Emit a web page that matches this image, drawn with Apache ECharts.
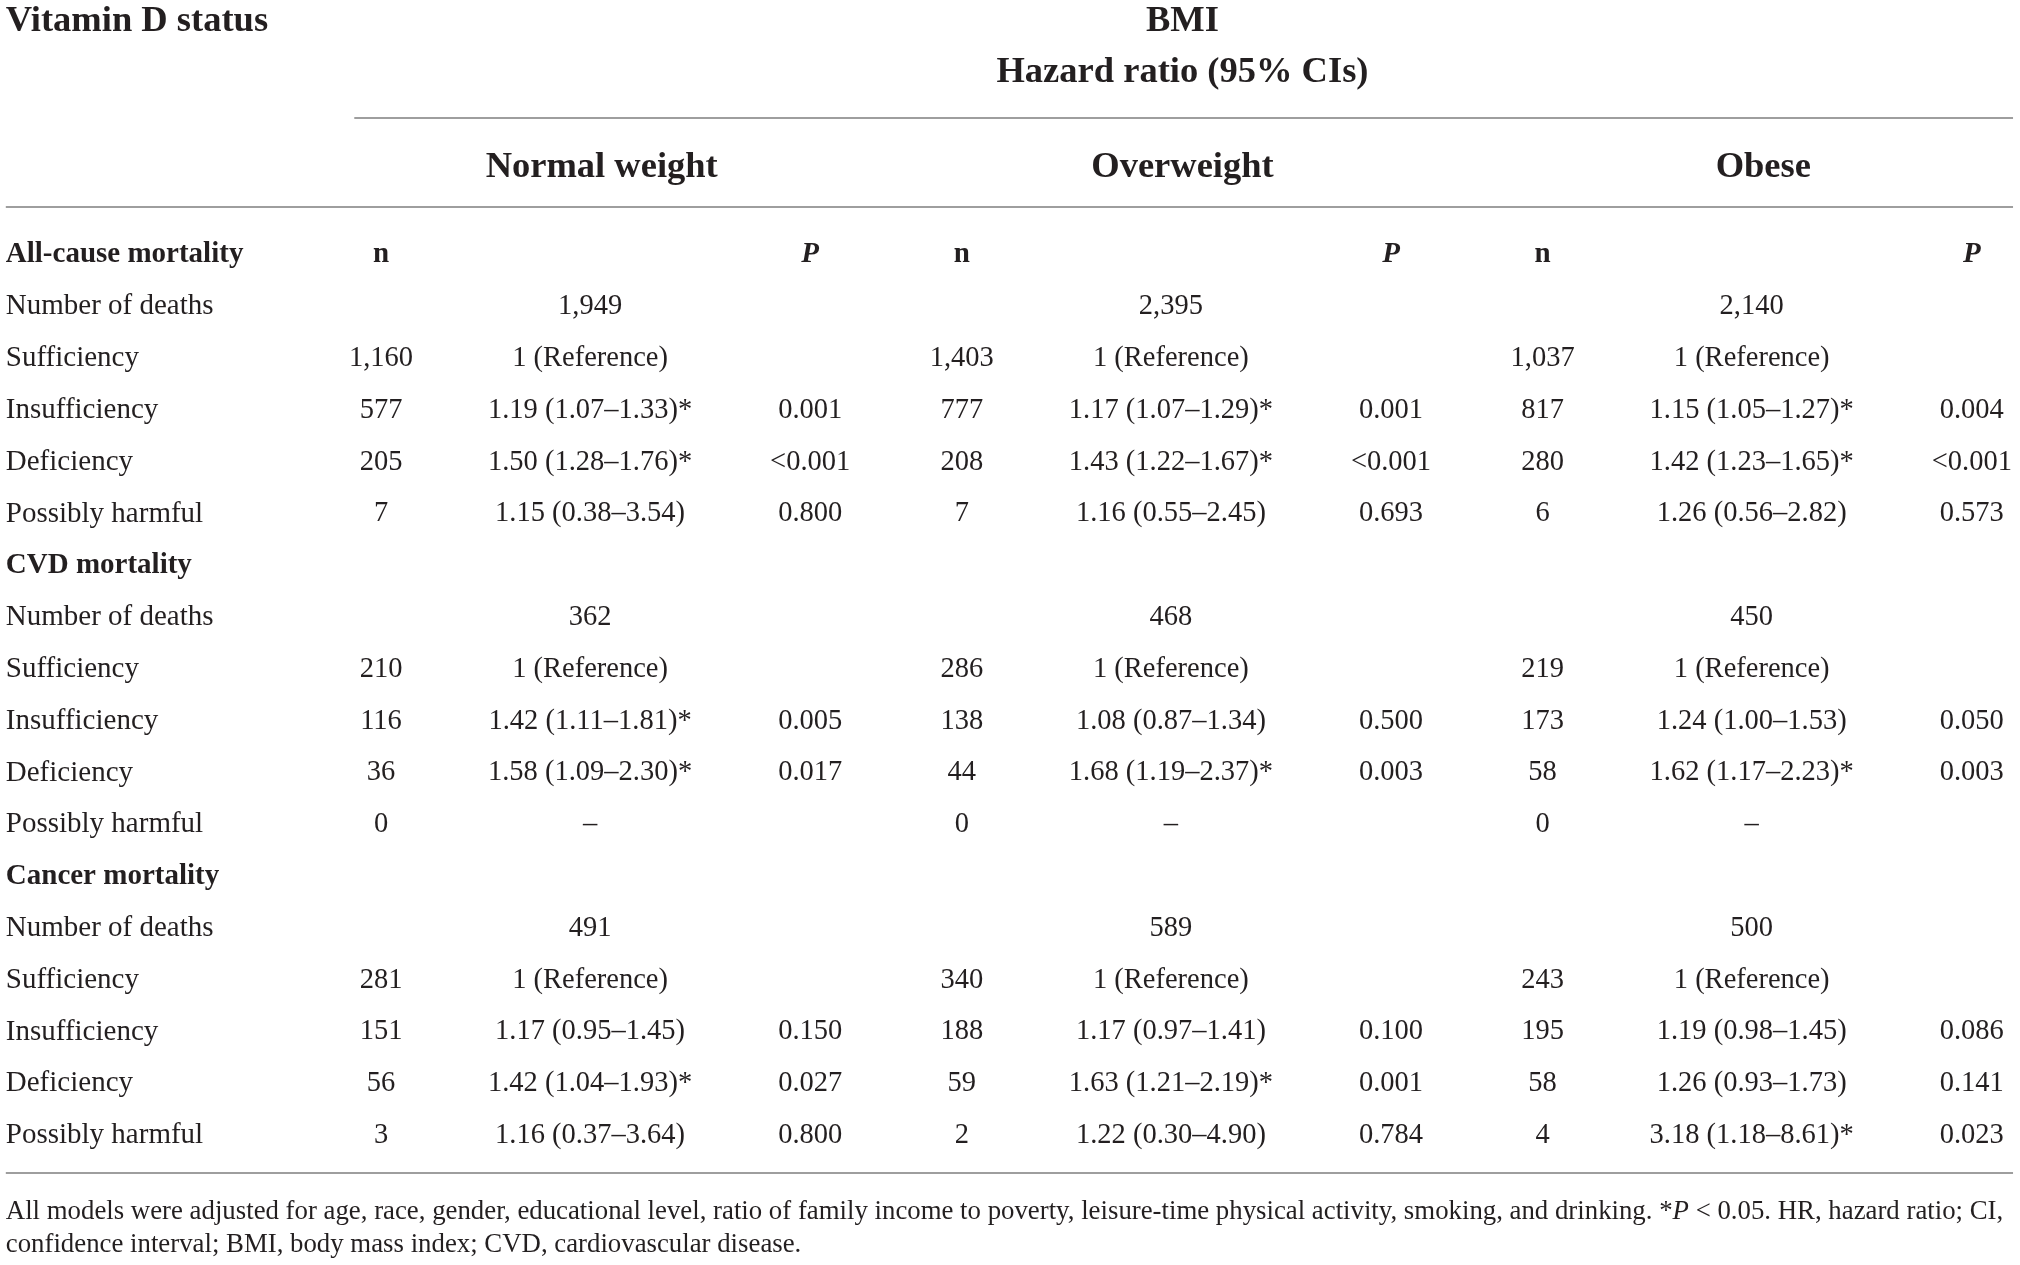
<!DOCTYPE html>
<html>
<head>
<meta charset="utf-8">
<script src="https://cdn.jsdelivr.net/npm/echarts@6/dist/echarts.min.js"></script>
<style>
  html, body { margin: 0; padding: 0; background: #fff; }
  #main { width: 2020px; height: 1265px; }
</style>
</head>
<body>
<div id="main"></div>
<script>
var groups = ['Normal weight', 'Overweight', 'Obese'];
var sections = ['All-cause mortality', 'CVD mortality', 'Cancer mortality'];
var statuses = ['Sufficiency', 'Insufficiency', 'Deficiency', 'Possibly harmful'];
// number of deaths, one row per section, one value per BMI group
var deaths = [[1949, 2395, 2140], [362, 468, 450], [491, 589, 500]];
// n for Sufficiency, Insufficiency, Deficiency, Possibly harmful (one row per BMI group)
var allCauseN = [[1160, 577, 205, 7], [1403, 777, 208, 7], [1037, 817, 280, 6]];
var cvdN = [[210, 116, 36, 0], [286, 138, 44, 0], [219, 173, 58, 0]];
var cancerN = [[281, 151, 56, 3], [340, 188, 59, 2], [243, 195, 58, 4]];
// HR (95% CI) for Insufficiency, Deficiency, Possibly harmful; Sufficiency is the reference
var allCauseHR = [[1.19, 1.50, 1.15], [1.17, 1.43, 1.16], [1.15, 1.42, 1.26]];
var allCauseLo = [[1.07, 1.28, 0.38], [1.07, 1.22, 0.55], [1.05, 1.23, 0.56]];
var allCauseHi = [[1.33, 1.76, 3.54], [1.29, 1.67, 2.45], [1.27, 1.65, 2.82]];
var allCauseP = [['0.001', '<0.001', '0.800'], ['0.001', '<0.001', '0.693'], ['0.004', '<0.001', '0.573']];
var cvdHR = [[1.42, 1.58, null], [1.08, 1.68, null], [1.24, 1.62, null]];
var cvdLo = [[1.11, 1.09, null], [0.87, 1.19, null], [1.00, 1.17, null]];
var cvdHi = [[1.81, 2.30, null], [1.34, 2.37, null], [1.53, 2.23, null]];
var cvdP = [['0.005', '0.017', ''], ['0.500', '0.003', ''], ['0.050', '0.003', '']];
var cancerHR = [[1.17, 1.42, 1.16], [1.17, 1.63, 1.22], [1.19, 1.26, 3.18]];
var cancerLo = [[0.95, 1.04, 0.37], [0.97, 1.21, 0.30], [0.98, 0.93, 1.18]];
var cancerHi = [[1.45, 1.93, 3.64], [1.41, 2.19, 4.90], [1.45, 1.73, 8.61]];
var cancerP = [['0.150', '0.027', '0.800'], ['0.100', '0.001', '0.784'], ['0.086', '0.141', '0.023']];
var footnote = [
  'All models were adjusted for age, race, gender, educational level, ratio of family income to poverty, leisure-time physical activity, smoking, and drinking. *{i|P} < 0.05. HR, hazard ratio; CI,',
  'confidence interval; BMI, body mass index; CVD, cardiovascular disease.'
];

var nData = [allCauseN, cvdN, cancerN];
var hrData = [allCauseHR, cvdHR, cancerHR];
var loData = [allCauseLo, cvdLo, cancerLo];
var hiData = [allCauseHi, cvdHi, cancerHi];
var pData = [allCauseP, cvdP, cancerP];

// layout: x in BMI-group units, y in table-row units
var COL = { label: -0.646, n: 0, hr: 0.360, p: 0.739, head: 0.38 };
var ROW = { title: -4.51, hazard: -3.53, rule1: -2.596, group: -1.69, rule2: -0.878, bottom: 17.77, foot1: 18.47, foot2: 19.12 };
var TEXT_DY = 2.5;
var INK = '#231f20';
var RULE = '#9e9e9e';
var FONT = '"Liberation Serif", "Times New Roman", serif';
var styles = {
  head: { fontSize: 36.5, fontWeight: 'bold' },
  sect: { fontSize: 29, fontWeight: 'bold' },
  subP: { fontSize: 29, fontWeight: 'bold', fontStyle: 'italic' },
  label: { fontSize: 29 },
  body: { fontSize: 28.5 },
  foot: { fontSize: 26.8 }
};

function fmtN(v) { return String(v).replace(/\B(?=(\d{3})+(?!\d))/g, ','); }
function isSig(p) { return p.charAt(0) === '<' || (p !== '' && parseFloat(p) < 0.05); }

var cells = [];
function cell(x, y, text, st, align) { cells.push({ x: x, y: y, text: text, st: st, align: align || 'center' }); }

cell(COL.label, ROW.title, 'Vitamin D status', 'head', 'left');
cell(1 + COL.head, ROW.title, 'BMI', 'head');
cell(1 + COL.head, ROW.hazard, 'Hazard ratio (95% CIs)', 'head');
groups.forEach(function (g, gi) {
  cell(gi + COL.head, ROW.group, g, 'head');
  cell(gi + COL.n, 0, 'n', 'sect');
  cell(gi + COL.p, 0, 'P', 'subP');
});

sections.forEach(function (s, si) {
  var r0 = si * 6;
  cell(COL.label, r0, s, 'sect', 'left');
  cell(COL.label, r0 + 1, 'Number of deaths', 'label', 'left');
  statuses.forEach(function (st, k) { cell(COL.label, r0 + 2 + k, st, 'label', 'left'); });
  groups.forEach(function (g, gi) {
    cell(gi + COL.hr, r0 + 1, fmtN(deaths[si][gi]), 'body');
    statuses.forEach(function (st, k) {
      var r = r0 + 2 + k;
      cell(gi + COL.n, r, fmtN(nData[si][gi][k]), 'body');
      if (k === 0) {
        cell(gi + COL.hr, r, '1 (Reference)', 'body');
        return;
      }
      var hr = hrData[si][gi][k - 1];
      var p = pData[si][gi][k - 1];
      if (hr === null) {
        cell(gi + COL.hr, r, '–', 'body');
        return;
      }
      var txt = hr.toFixed(2) + ' (' + loData[si][gi][k - 1].toFixed(2) + '–' +
        hiData[si][gi][k - 1].toFixed(2) + ')' + (isSig(p) ? '*' : '');
      cell(gi + COL.hr, r, txt, 'body');
      cell(gi + COL.p, r, p, 'body');
    });
  });
});
cell(COL.label, ROW.foot1, footnote[0], 'foot', 'left');
cell(COL.label, ROW.foot2, footnote[1], 'foot', 'left');

var rules = [
  [COL.n - 0.046, 2.81, ROW.rule1],
  [COL.label, 2.81, ROW.rule2],
  [COL.label, 2.81, ROW.bottom]
];

var myChart = echarts.init(document.getElementById('main'));
var option = {
  backgroundColor: '#fff',
  animation: false,
  grid: { left: 0, right: 0, top: 0, bottom: 0 },
  xAxis: { type: 'value', min: -0.656, max: 2.822, show: false },
  yAxis: { type: 'value', inverse: true, min: -4.874, max: 19.546, show: false },
  series: [{
    type: 'custom',
    silent: true,
    clip: false,
    encode: { x: [0, 1], y: 2 },
    data: rules,
    renderItem: function (params, api) {
      var a = api.coord([api.value(0), api.value(2)]);
      var b = api.coord([api.value(1), api.value(2)]);
      return {
        type: 'line',
        shape: { x1: a[0], y1: a[1], x2: b[0], y2: b[1] },
        style: { stroke: RULE, lineWidth: 2 }
      };
    }
  }, {
    type: 'custom',
    silent: true,
    clip: false,
    encode: { x: 0, y: 1 },
    data: cells.map(function (c) { return [c.x, c.y]; }),
    renderItem: function (params, api) {
      var c = cells[params.dataIndex];
      var s = styles[c.st];
      var pt = api.coord([api.value(0), api.value(1)]);
      return {
        type: 'text',
        x: pt[0],
        y: pt[1] + TEXT_DY,
        style: {
          text: c.text,
          fill: INK,
          fontFamily: FONT,
          fontSize: s.fontSize,
          fontWeight: s.fontWeight || 'normal',
          fontStyle: s.fontStyle || 'normal',
          align: c.align,
          verticalAlign: 'middle',
          rich: { i: { fontStyle: 'italic', fontFamily: FONT, fontSize: s.fontSize, fill: INK } }
        }
      };
    }
  }]
};
myChart.setOption(option);
window.addEventListener('resize', function () {
  myChart.resize();
});
</script>
</body>
</html>
